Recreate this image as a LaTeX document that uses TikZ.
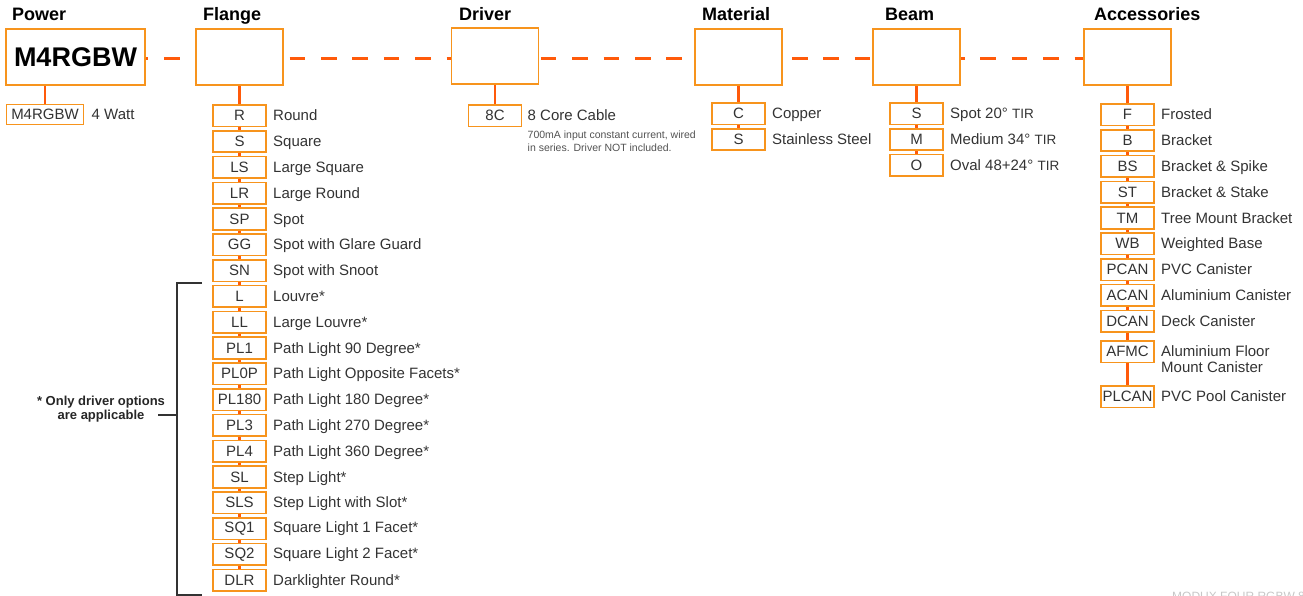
\documentclass[tikz,border=0pt]{standalone}
\usepackage{fontspec}
\setmainfont{Liberation Sans}
\usepackage{xcolor}
\usetikzlibrary{positioning,backgrounds}
\definecolor{boxorange}{HTML}{F7941D}
\definecolor{lineorange}{HTML}{FF5A0A}
\definecolor{txtgrey}{HTML}{333333}

\begin{document}
\begin{tikzpicture}[x=1pt,y=-1pt,node distance=4.3pt,
 head/.style={anchor=base west,inner sep=0pt,font=\fontsize{18}{20}\selectfont\bfseries},
 mainbox/.style={rectangle,draw=boxorange,line width=1.8pt,fill=white,outer sep=0pt,
   minimum width=87pt,minimum height=56pt,inner sep=0pt},
 opt/.style={rectangle,draw=boxorange,line width=1.6pt,fill=white,outer sep=0pt,minimum width=53pt,
   minimum height=21.5pt,inner sep=0pt,font=\fontsize{15}{16}\selectfont,text=txtgrey},
 desc/.style={anchor=base west,inner sep=0pt,font=\fontsize{15}{16}\selectfont,text=txtgrey},
 note/.style={anchor=base west,inner sep=0pt,align=left,font=\fontsize{10.5}{13}\selectfont,text=txtgrey!85},
 link/.style={draw=lineorange,line width=2.6pt},
 chain/.style={draw=lineorange,line width=3pt,dash pattern=on 15.5pt off 15.9pt,dash phase=12.4pt},
 bracket/.style={draw=txtgrey,line width=1.4pt}]
\useasboundingbox (0,0) rectangle (1303,596);
% headings
\node [head] at (12,21) {Power};
\node [head] at (203,21) {Flange};
\node [head] at (459,21) {Driver};
\node [head] at (702,21) {Material};
\node [head] at (885,21) {Beam};
\node [head] at (1094,21) {Accessories};
% main boxes
\node [mainbox,minimum width=139pt] (power) at (75.5,57) {\fontsize{27}{30}\selectfont\bfseries M4RGBW};
\node [mainbox] (flange) at (239.5,57) {};
\node [mainbox] (driver) at (495,56) {};
\node [mainbox] (material) at (738.5,57) {};
\node [mainbox] (beam) at (916.5,57) {};
\node [mainbox] (acc) at (1127.5,57) {};
% power
\node [opt,minimum width=77pt,minimum height=20pt] (pw1) at (45,114.5) {M4RGBW};
\node [right=8pt of pw1.base east,desc] {4 Watt};
% flange
\node [opt,below=20pt of flange] (f1) {R};
\node [opt,below=of f1] (f2) {S};
\node [opt,below=of f2] (f3) {LS};
\node [opt,below=of f3] (f4) {LR};
\node [opt,below=of f4] (f5) {SP};
\node [opt,below=of f5] (f6) {GG};
\node [opt,below=of f6] (f7) {SN};
\node [opt,below=of f7] (f8) {L};
\node [opt,below=of f8] (f9) {LL};
\node [opt,below=of f9] (f10) {PL1};
\node [opt,below=of f10] (f11) {PL0P};
\node [opt,below=of f11] (f12) {PL180};
\node [opt,below=of f12] (f13) {PL3};
\node [opt,below=of f13] (f14) {PL4};
\node [opt,below=of f14] (f15) {SL};
\node [opt,below=of f15] (f16) {SLS};
\node [opt,below=of f16] (f17) {SQ1};
\node [opt,below=of f17] (f18) {SQ2};
\node [opt,below=of f18] (f19) {DLR};
\node [right=7pt of f1.base east,desc] {Round};
\node [right=7pt of f2.base east,desc] {Square};
\node [right=7pt of f3.base east,desc] {Large Square};
\node [right=7pt of f4.base east,desc] {Large Round};
\node [right=7pt of f5.base east,desc] {Spot};
\node [right=7pt of f6.base east,desc] {Spot with Glare Guard};
\node [right=7pt of f7.base east,desc] {Spot with Snoot};
\node [right=7pt of f8.base east,desc] {Louvre*};
\node [right=7pt of f9.base east,desc] {Large Louvre*};
\node [right=7pt of f10.base east,desc] {Path Light 90 Degree*};
\node [right=7pt of f11.base east,desc] {Path Light Opposite Facets*};
\node [right=7pt of f12.base east,desc] {Path Light 180 Degree*};
\node [right=7pt of f13.base east,desc] {Path Light 270 Degree*};
\node [right=7pt of f14.base east,desc] {Path Light 360 Degree*};
\node [right=7pt of f15.base east,desc] {Step Light*};
\node [right=7pt of f16.base east,desc] {Step Light with Slot*};
\node [right=7pt of f17.base east,desc] {Square Light 1 Facet*};
\node [right=7pt of f18.base east,desc] {Square Light 2 Facet*};
\node [right=7pt of f19.base east,desc] {Darklighter Round*};
% driver
\node [opt,below=21pt of driver] (d1) {8C};
\node [right=6pt of d1.base east,desc] (d1t) {8 Core Cable};
\node [below=31pt of d1t.base west,note] {700mA input constant current, wired\\in series. Driver NOT included.};
% material
\node [opt,below=18pt of material] (m1) {C};
\node [opt,below=of m1] (m2) {S};
\node [right=7pt of m1.base east,desc] {Copper};
\node [right=7pt of m2.base east,desc] {Stainless Steel};
% beam
\node [opt,below=18pt of beam] (b1) {S};
\node [opt,below=of b1] (b2) {M};
\node [opt,below=of b2] (b3) {O};
\node [right=7pt of b1.base east,desc] {Spot 20° {\fontsize{13.5}{14}\selectfont TIR}};
\node [right=7pt of b2.base east,desc] {Medium 34° {\fontsize{13.5}{14}\selectfont TIR}};
\node [right=7pt of b3.base east,desc] {Oval 48+24° {\fontsize{13.5}{14}\selectfont TIR}};
% accessories
\node [opt,below=19pt of acc] (a1) {F};
\node [opt,below=of a1] (a2) {B};
\node [opt,below=of a2] (a3) {BS};
\node [opt,below=of a3] (a4) {ST};
\node [opt,below=of a4] (a5) {TM};
\node [opt,below=of a5] (a6) {WB};
\node [opt,below=of a6] (a7) {PCAN};
\node [opt,below=of a7] (a8) {ACAN};
\node [opt,below=of a8] (a9) {DCAN};
\node [opt,below=9pt of a9] (a10) {AFMC};
\node [opt,below=23.5pt of a10] (a11) {PLCAN};
\node [right=7pt of a1.base east,desc] {Frosted};
\node [right=7pt of a2.base east,desc] {Bracket};
\node [right=7pt of a3.base east,desc] {Bracket \& Spike};
\node [right=7pt of a4.base east,desc] {Bracket \& Stake};
\node [right=7pt of a5.base east,desc] {Tree Mount Bracket};
\node [right=7pt of a6.base east,desc] {Weighted Base};
\node [right=7pt of a7.base east,desc] {PVC Canister};
\node [right=7pt of a8.base east,desc] {Aluminium Canister};
\node [right=7pt of a9.base east,desc] {Deck Canister};
\node [right=7pt of a10.base east,desc,align=left,yshift=-16pt] {Aluminium Floor\\Mount Canister};
\node [right=7pt of a11.base east,desc] {PVC Pool Canister};
% footnote bracket
\node [align=center,inner sep=0pt,font=\fontsize{13}{14}\selectfont\bfseries,text=black!85] (onlynote) at (101,409) {* Only driver options\\are applicable};
\draw [bracket] (202,283) -- (177,283) -- (177,595) -- (202,595);
\draw [bracket] (158,415) -- (177,415);
\node [anchor=north west,inner sep=0pt,font=\fontsize{12}{13}\selectfont,text=black!22] at (1172,592) {MODUX FOUR RGBW 8C};
% connectors
\begin{scope}[on background layer]
\path [chain] ([yshift=-2pt]power.east) -- ([yshift=-2pt]acc.west);
\path [link] (pw1.north) -- (pw1.north |- power.south);
\path [link] (flange.south) -- (f19.north);
\path [link] (driver.south) -- (d1.north);
\path [link] (material.south) -- (m2.north);
\path [link] (beam.south) -- (b3.north);
\path [link] (acc.south) -- (a11.north);
\end{scope}
\end{tikzpicture}
\end{document}
